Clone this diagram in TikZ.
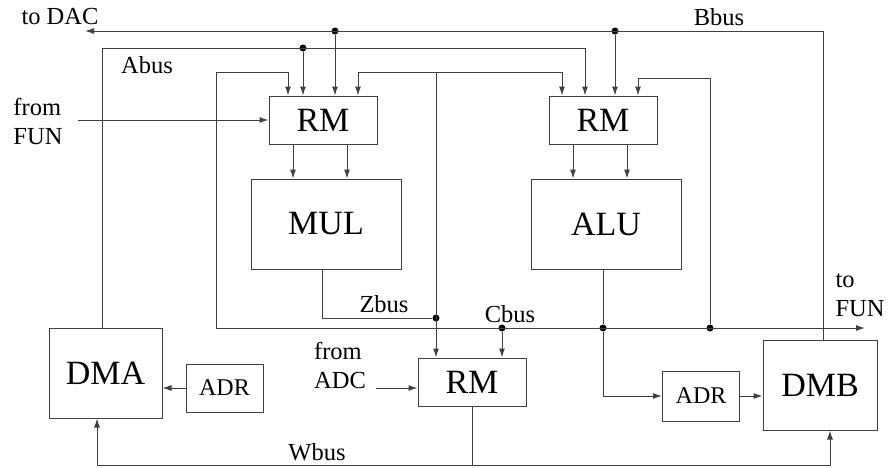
\documentclass[tikz,border=0pt]{standalone}
\usepackage{fontspec}
\setmainfont{Liberation Serif}
\usetikzlibrary{arrows.meta}
\definecolor{wiregray}{HTML}{404040}

\begin{document}
\begin{tikzpicture}[x=1pt, y=-1pt,
    box/.style={rectangle, draw=wiregray, line width=1pt, inner sep=0pt,
                minimum width=108pt, minimum height=48pt,
                font=\fontsize{34}{34}\selectfont},
    unit/.style={box, minimum width=150pt, minimum height=90pt},
    small/.style={box, minimum width=77pt, minimum height=48pt,
                  font=\fontsize{24}{24}\selectfont},
    lbl/.style={font=\fontsize{24.5}{29}\selectfont, align=left, inner sep=0pt},
    wire/.style={draw=wiregray, line width=1pt},
    arr/.style={wire, -{Latex[length=9pt, width=6pt]}},
    dot/.style={circle, fill=black, inner sep=0pt, minimum size=7pt}
  ]
    \useasboundingbox (0,0) rectangle (888,467);

    % blocks
    \node[box] (rmA) at (323,120) {RM};
    \node[box] (rmB) at (603,120) {RM};
    \node[unit] (mul) at (326,224) {MUL};
    \node[unit] (alu) at (606,224) {ALU};
    \node[box] (rmC) at (472,382) {RM};
    \node[unit, minimum width=113pt] (dma) at (105.5,373) {DMA};
    \node[unit, minimum width=114pt] (dmb) at (820,385) {DMB};
    \node[small] (adrA) at (224.5,388) {ADR};
    \node[small, minimum height=50pt] (adrB) at (701,396) {ADR};

    % bus corners and ends
    \coordinate (dac) at (85,31);
    \coordinate (bR) at (823,31);
    \coordinate (aL) at (102,48);
    \coordinate (aR) at (585,48);
    \coordinate (cL) at (216,328);
    \coordinate (cRMA) at (288,72);
    \coordinate (cRMB) at (638,78);
    \coordinate (fun) at (865,328);
    \coordinate (zM) at (322,318);
    \coordinate (zT) at (436,72);
    \coordinate (zRA) at (358,72);
    \coordinate (zRB) at (562,72);
    \coordinate (wL) at (97,465);
    \coordinate (wR) at (830,465);
    \coordinate (funIn) at (78,120);
    \coordinate (adcIn) at (376,388);

    % junctions
    \node[dot] (bA) at (335,31) {};
    \node[dot] (bB) at (615,31) {};
    \node[dot] (aA) at (303,48) {};
    \node[dot] (zA) at (436,318) {};
    \node[dot] (cA) at (502,328) {};
    \node[dot] (cB) at (603,328) {};
    \node[dot] (cC) at (710,328) {};

    % Bbus
    \draw[arr] (dmb.north -| bR) -- (bR) -- (dac);
    \draw[arr] (bA) -- (bA |- rmA.north);
    \draw[arr] (bB) -- (bB |- rmB.north);

    % Abus
    \draw[arr] (dma.north -| aL) -- (aL) -- (aR) -- (aR |- rmB.north);
    \draw[arr] (aA) -- (aA |- rmA.north);

    % Cbus
    \draw[arr] (cL) -- (fun);
    \draw[arr] (cL) |- (cRMA) -- (cRMA |- rmA.north);
    \draw[arr] (cA) -- (cA |- rmC.north);
    \draw[arr] (alu.south -| cB) -- (cB) |- (adrB.west);
    \draw[arr] (cC) |- (cRMB) -- (cRMB |- rmB.north);

    % Zbus
    \draw[wire] (mul.south -| zM) -- (zM) -- (zA);
    \draw[arr] (zT) -- (zT |- rmC.north);
    \draw[arr] (zT) -- (zRA) -- (zRA |- rmA.north);
    \draw[arr] (zT) -- (zRB) -- (zRB |- rmB.north);

    % register outputs
    \foreach \s in {-30,24} {
      \draw[arr] ([xshift=\s pt]rmA.south) -- ([xshift=\s pt]rmA.south |- mul.north);
      \draw[arr] ([xshift=\s pt]rmB.south) -- ([xshift=\s pt]rmB.south |- alu.north);
    }

    % Wbus
    \draw[arr] (rmC.south) |- (wL) -- (wL |- dma.south);
    \draw[arr] (rmC.south) |- (wR) -- (wR |- dmb.south);

    % address and external inputs
    \draw[arr] (adrA.west) -- (adrA.west -| dma.east);
    \draw[arr] (adrB.east) -- (adrB.east -| dmb.west);
    \draw[arr] (funIn) -- (rmA.west);
    \draw[arr] (adcIn) -- (adcIn -| rmC.west);

    % labels
    \node[lbl] (tDAC) at (60,17) {to DAC};
    \node[lbl] (tA) at (147,65) {Abus};
    \node[lbl] (tB) at (719,17) {Bbus};
    \node[lbl] (tZ) at (384,304) {Zbus};
    \node[lbl] (tC) at (510,314) {Cbus};
    \node[lbl] (tW) at (317,452) {Wbus};
    \node[lbl] (tFunIn) at (38,121) {from\\FUN};
    \node[lbl] (tAdc) at (340,365) {from\\ADC};
    \node[lbl] (tFunOut) at (860,295) {to\\FUN};
\end{tikzpicture}
\end{document}
